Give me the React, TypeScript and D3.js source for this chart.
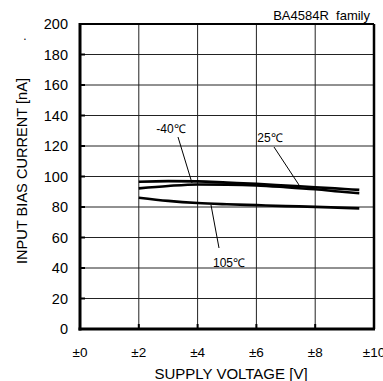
import React from "react";
import * as d3 from "d3";

const voltages = [2, 3, 4, 5, 6, 7, 8, 9, 9.5];
const seriesTop = [96.6, 97.0, 96.8, 96.0, 95.2, 94.1, 93.0, 91.8, 91.2];
const seriesMid = [92.2, 93.8, 94.8, 94.7, 94.2, 93.0, 91.6, 89.8, 89.0];
const seriesLow = [86.1, 84.0, 82.6, 81.8, 81.2, 80.6, 80.1, 79.4, 79.1];
const xTicks = [0, 2, 4, 6, 8, 10];
const xTickLabels = ["±0", "±2", "±4", "±6", "±8", "±10"];
const yTicks = [0, 20, 40, 60, 80, 100, 120, 140, 160, 180, 200];

export default function App() {
  const W = 383, H = 381;
  const L = 80, R = 374, T = 24, B = 329;
  const x = d3.scaleLinear().domain([0, 10]).range([L, R]);
  const y = d3.scaleLinear().domain([0, 200]).range([B, T]);
  const line = d3
    .line<number>()
    .x((_, i) => x(voltages[i]))
    .y((d) => y(d))
    .curve(d3.curveMonotoneX);
  const font = "'Liberation Sans', Arial, sans-serif";
  return (
    <svg width={W} height={H} style={{ position: "absolute", left: 0, top: 0 }} fontFamily={font}>
      <rect x={0} y={0} width={W} height={H} fill="#fff" />
      {yTicks.map((t) => (
        <line key={"gy" + t} x1={L} x2={R} y1={y(t)} y2={y(t)} stroke="#222" strokeWidth={1} />
      ))}
      {xTicks.map((t) => (
        <line key={"gx" + t} x1={x(t)} x2={x(t)} y1={T} y2={B} stroke="#222" strokeWidth={1} />
      ))}
      {yTicks.map((t) => (
        <line key={"ty" + t} x1={L} x2={L + 5} y1={y(t)} y2={y(t)} stroke="#000" strokeWidth={2} />
      ))}
      {xTicks.map((t) => (
        <line key={"tx" + t} x1={x(t)} x2={x(t)} y1={B} y2={B - 5} stroke="#000" strokeWidth={2} />
      ))}
      <line x1={L} x2={R} y1={T} y2={T} stroke="#000" strokeWidth={2} />
      <line x1={R} x2={R} y1={T} y2={B} stroke="#000" strokeWidth={2.5} />
      <line x1={L} x2={L} y1={T - 1} y2={B + 1.5} stroke="#000" strokeWidth={3} />
      <line x1={L - 1.5} x2={R + 1} y1={B} y2={B} stroke="#000" strokeWidth={3} />
      {[seriesTop, seriesMid, seriesLow].map((s, i) => (
        <path key={"s" + i} d={line(s) || ""} fill="none" stroke="#000" strokeWidth={2.6} />
      ))}
      {yTicks.map((t) => (
        <text key={"ly" + t} x={68} y={y(t)} dy="0.36em" textAnchor="end" fontSize={14.5} fill="#000">
          {t}
        </text>
      ))}
      {xTicks.map((t, i) => (
        <text key={"lx" + t} x={x(t)} y={357} textAnchor="middle" fontSize={13.5} fill="#000">
          {xTickLabels[i]}
        </text>
      ))}
      <text x={231} y={379} textAnchor="middle" fontSize={15} fill="#000">
        SUPPLY VOLTAGE [V]
      </text>
      <text
        transform={`translate(27,${171}) rotate(-90)`}
        textAnchor="middle"
        fontSize={14.6}
        fill="#000"
      >
        INPUT BIAS CURRENT [nA]
      </text>
      <text x={25} y={40} textAnchor="middle" fontSize={12} fill="#000">.</text>
      <text x={370} y={20} textAnchor="end" fontSize={13} fill="#000" xmlSpace="preserve">
        BA4584R  family
      </text>
      <text x={171} y={133} textAnchor="middle" fontSize={12} fill="#000">-40℃</text>
      <line x1={178} y1={137} x2={192} y2={183} stroke="#000" strokeWidth={1} />
      <text x={270} y={142} textAnchor="middle" fontSize={12} fill="#000">25℃</text>
      <line x1={274} y1={147} x2={299} y2={185} stroke="#000" strokeWidth={1} />
      <text x={229} y={267} textAnchor="middle" fontSize={12} fill="#000">105℃</text>
      <line x1={211} y1={205} x2={219} y2={248} stroke="#000" strokeWidth={1} />
    </svg>
  );
}
